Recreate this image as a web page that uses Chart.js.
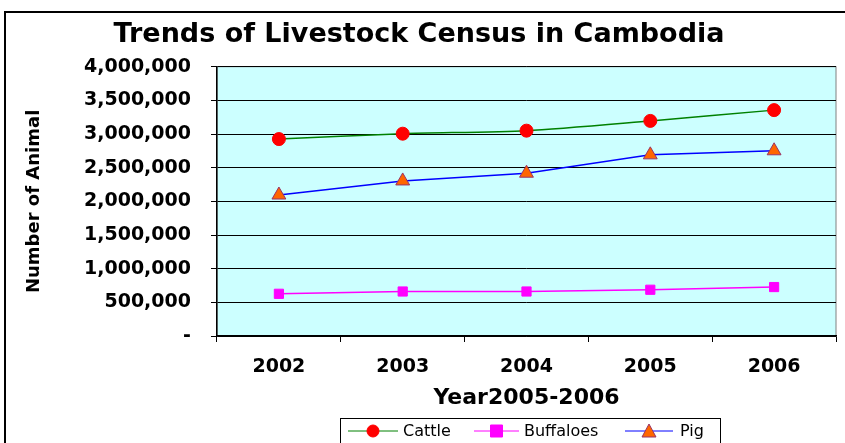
<!DOCTYPE html>
<html>
<head>
<meta charset="utf-8">
<script src="https://cdn.jsdelivr.net/npm/chart.js@4/dist/chart.umd.min.js"></script>
<style>
  html, body { margin: 0; padding: 0; background: #ffffff; }
  #wrap { width: 845px; height: 443px; }
</style>
</head>
<body>
<div id="wrap"><canvas id="livestockChart" width="845" height="443"></canvas></div>
<script>
// data
let years = ["2002", "2003", "2004", "2005", "2006"];
let cattle = [2925000, 3005000, 3050000, 3195000, 3355000];
let buffaloes = [627000, 661000, 661000, 687000, 727000];
let pigs = [2094000, 2303000, 2418000, 2691000, 2751000];

let seriesNames = ["Cattle", "Buffaloes", "Pig"];
let lineColors = ["#008000", "#ff00ff", "#0000ff"];
let markerFill = ["#ff0000", "#ff00ff", "#ff6600"];
let markerEdge = ["#ff0000", "#ff00ff", "#993366"];
let markerShape = ["circle", "rect", "triangle"];

let wideFont = "'DejaVu Sans', 'Liberation Sans', Arial, sans-serif";

// outer frame and legend box drawn by hand
let framePlugin = {
  id: "frame",
  beforeDraw(chart) {
    let ctx = chart.ctx;
    ctx.save();
    ctx.strokeStyle = "#000000";
    ctx.lineWidth = 2;
    ctx.strokeRect(5, 12, 900, 500);
    ctx.restore();
  },
  afterDraw(chart) {
    let ctx = chart.ctx;
    ctx.save();
    ctx.strokeStyle = "#000000";
    ctx.lineWidth = 1;
    ctx.fillStyle = "#ffffff";
    ctx.fillRect(340, 418, 380, 40);
    ctx.strokeRect(340.5, 418.5, 380, 40);
    // line start, line end, text x for each legend entry
    let items = [
      { x0: 348, x1: 398, textX: 403 },
      { x0: 474, x1: 519, textX: 524 },
      { x0: 625, x1: 673, textX: 680 },
    ];
    ctx.font = "16px " + wideFont;
    ctx.textBaseline = "middle";
    items.forEach(function (it, i) {
      let y = 431;
      ctx.strokeStyle = lineColors[i];
      ctx.lineWidth = 1;
      ctx.beginPath();
      ctx.moveTo(it.x0, y);
      ctx.lineTo(it.x1, y);
      ctx.stroke();
      let cx = (it.x0 + it.x1) / 2;
      ctx.fillStyle = markerFill[i];
      ctx.strokeStyle = markerEdge[i];
      ctx.beginPath();
      if (markerShape[i] === "circle") {
        ctx.arc(cx, y, 6, 0, Math.PI * 2);
      } else if (markerShape[i] === "rect") {
        ctx.rect(cx - 6, y - 6, 12, 12);
      } else {
        ctx.moveTo(cx, y - 7);
        ctx.lineTo(cx + 7, y + 6);
        ctx.lineTo(cx - 7, y + 6);
        ctx.closePath();
      }
      ctx.fill();
      ctx.stroke();
      ctx.fillStyle = "#000000";
      ctx.fillText(seriesNames[i], it.textX, y + 1);
    });
    ctx.restore();
  },
};

// light cyan plot background
let plotBgPlugin = {
  id: "plotBg",
  beforeDraw(chart) {
    let a = chart.chartArea;
    let ctx = chart.ctx;
    ctx.save();
    ctx.fillStyle = "#ccffff";
    ctx.fillRect(a.left, a.top, a.right - a.left, a.bottom - a.top);
    ctx.strokeStyle = "#808080";
    ctx.lineWidth = 1;
    ctx.strokeRect(a.left, a.top, a.right - a.left, a.bottom - a.top);
    ctx.restore();
  },
};

let datasets = [cattle, buffaloes, pigs].map(function (values, i) {
  return {
    label: seriesNames[i],
    data: values,
    borderColor: lineColors[i],
    borderWidth: 1.5,
    backgroundColor: markerFill[i],
    pointBackgroundColor: markerFill[i],
    pointBorderColor: markerEdge[i],
    pointBorderWidth: 1,
    pointStyle: markerShape[i],
    pointRadius: markerShape[i] === "triangle" ? 8 : 6.5,
    tension: i === 0 ? 0.25 : 0,
    fill: false,
  };
});

let context = document.querySelector("#livestockChart").getContext("2d");

let livestockChart = new Chart(context, {
  type: "line",
  data: { labels: years, datasets: datasets },
  plugins: [plotBgPlugin, framePlugin],
  options: {
    responsive: false,
    animation: false,
    layout: { padding: { left: 0, right: 7, top: 0, bottom: 27 } },
    plugins: {
      legend: { display: false },
      tooltip: { enabled: false },
      title: {
        display: true,
        text: "Trends of Livestock Census in Cambodia",
        color: "#000000",
        font: { family: wideFont, size: 27, weight: "bold", lineHeight: 1.1 },
        padding: { top: 20, bottom: 17 },
      },
    },
    scales: {
      x: {
        offset: true,
        afterFit(scale) { scale.height = 80; },
        grid: {
          offset: true,
          drawOnChartArea: false,
          drawTicks: true,
          tickLength: 6,
          color: "#000000",
        },
        border: { color: "#000000", width: 1.5 },
        ticks: {
          color: "#000000",
          padding: 14,
          font: { family: wideFont, size: 19, weight: "bold" },
        },
        title: {
          display: true,
          text: "Year2005-2006",
          color: "#000000",
          font: { family: wideFont, size: 22, weight: "bold", lineHeight: 1.2 },
          padding: { top: 0, bottom: 5 },
        },
      },
      y: {
        min: 0,
        max: 4000000,
        afterFit(scale) { scale.width = 217; },
        grid: {
          color: "#000000",
          lineWidth: 1,
          drawTicks: true,
          tickLength: 6,
        },
        border: { color: "#000000", width: 1.5 },
        ticks: {
          stepSize: 500000,
          color: "#000000",
          padding: 20,
          font: { family: wideFont, size: 19, weight: "bold" },
          callback: function (v) {
            return v === 0 ? "-" : v.toLocaleString("en-US");
          },
        },
        title: {
          display: true,
          text: "Number of Animal",
          color: "#000000",
          font: { family: wideFont, size: 18, weight: "bold", lineHeight: 1.2 },
          padding: { top: 24, bottom: 0 },
        },
      },
    },
  },
});
</script>
</body>
</html>
